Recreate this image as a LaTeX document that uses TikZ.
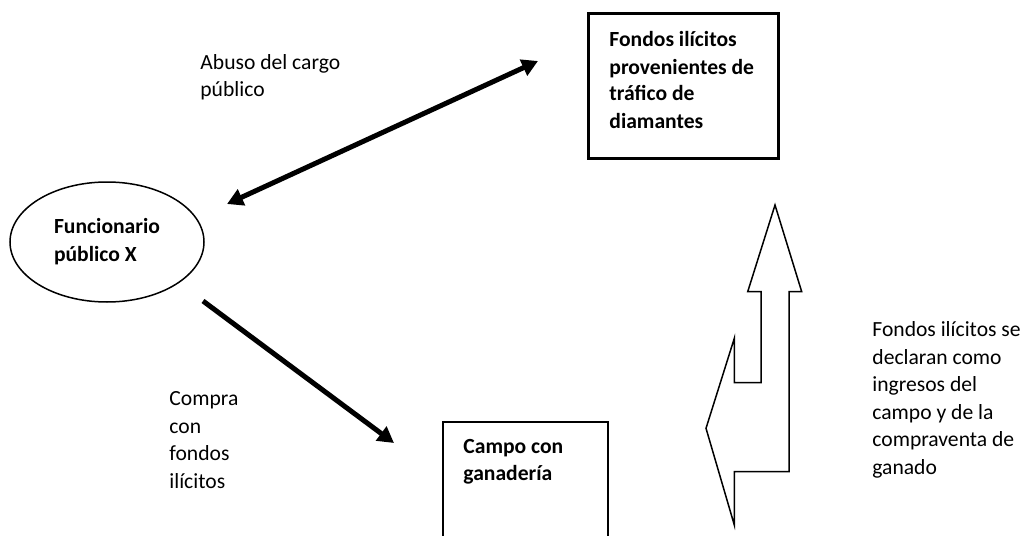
\documentclass[tikz,border=0pt]{standalone}
\usepackage{fontspec}
\setmainfont{Carlito}
\usetikzlibrary{arrows.meta,shapes.geometric}
\begin{document}
\begin{tikzpicture}[x=0.5pt,y=-0.5pt,
  txt/.style={font=\fontsize{10.8pt}{13.75pt}\selectfont, align=left, inner sep=0pt, anchor=base west},
  btxt/.style={txt, font=\fontsize{10.8pt}{13.5pt}\selectfont\bfseries},
  fatarrow/.style={line width=2.5pt, -{Triangle[length=8pt,width=8.5pt]}},
  dblarrow/.style={line width=2.5pt, {Triangle[length=8pt,width=8.5pt]}-{Triangle[length=8pt,width=8.5pt]}},
  boxshape/.style={draw, rectangle, inner sep=0pt, anchor=north west}]
\useasboundingbox (0,0) rectangle (1021,535);
% boxes
\node[boxshape, line width=1.3pt, minimum width=95pt, minimum height=72.5pt] (fondos) at (587,12) {};
\node[btxt] (fondostxt) at (609,128) {Fondos ilícitos\\provenientes de\\tráfico de\\diamantes};
\node[boxshape, line width=1pt, minimum width=82.5pt, minimum height=62pt] (campo) at (442,421) {};
\node[btxt] (campotxt) at (463,480) {Campo con\\ganadería};
% ellipse
\node[draw, ellipse, line width=0.75pt, minimum width=97pt, minimum height=60pt, inner sep=0pt,
      font=\fontsize{10.8pt}{14pt}\selectfont\bfseries, align=left] (func) at (107,242) {Funcionario\\público X};
% labels
\node[txt] (abuso) at (200,97) {Abuso del cargo\\público};
\node[txt] (compra) at (169,488) {Compra\\con\\fondos\\ilícitos};
\node[txt] (declara) at (872,474) {Fondos ilícitos se\\declaran como\\ingresos del\\campo y de la\\compraventa de\\ganado};
% arrows
\coordinate (a1) at (538,61);
\coordinate (a2) at (227,204);
\coordinate (b1) at (203,301);
\coordinate (b2) at (394,443);
\draw[dblarrow] (a2) -- (a1);
\draw[fatarrow] (b1) -- (b2);
% block arrow
\draw[line width=0.75pt, line join=miter] (775,205) -- (801.7,291.7) -- (789,291.7) -- (789,471.7)
  -- (734.3,471.7) -- (734.3,525) -- (706,428.3) -- (734.3,338.3) -- (734.3,382.7)
  -- (761,382.7) -- (761,291.7) -- (747.7,291.7) -- cycle;
\end{tikzpicture}
\end{document}
